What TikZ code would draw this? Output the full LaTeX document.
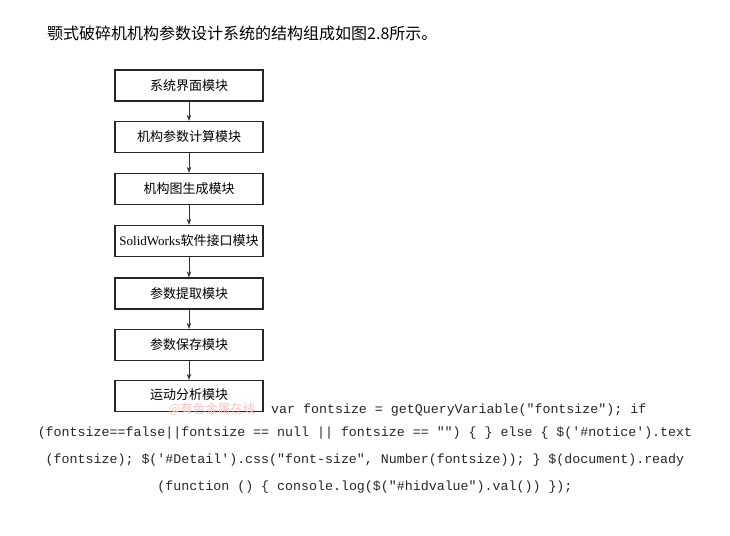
\documentclass[tikz,border=0pt]{standalone}
\usepackage{fontspec}
\setmainfont{Liberation Serif}
\setmonofont{Liberation Mono}
\newfontfamily\cjk{Noto Sans CJK SC}
\usetikzlibrary{arrows.meta}

\begin{document}
\begin{tikzpicture}[x=1pt,y=-1pt,>={Stealth[length=6pt,width=4.5pt]},
                    modbox/.style={draw=black!85,line width=1.3pt,minimum width=148pt,minimum height=31pt,
                                   inner sep=0pt,font=\cjk\fontsize{13}{13}\selectfont},
                    codeline/.style={font=\ttfamily\fontsize{13.3}{14}\selectfont,inner sep=0pt,text=black!85}]
  \useasboundingbox[fill=white] (0,0) rectangle (730,535);
  % heading line
  \node[anchor=west,inner sep=0pt,font=\cjk\fontsize{16}{16}\selectfont] (title) at (47,33)
    {颚式破碎机机构参数设计系统的结构组成如图2.8所示。};
  % the module chain
  \node[modbox] (ui) at (189,85.5) {系统界面模块};
  \node[modbox] (calc) at (189,137) {机构参数计算模块};
  \node[modbox] (graph) at (189,189) {机构图生成模块};
  \node[modbox] (sw) at (189,241) {{\rmfamily SolidWorks}软件接口模块};
  \node[modbox] (extract) at (189,293.5) {参数提取模块};
  \node[modbox] (save) at (189,345) {参数保存模块};
  \node[modbox,text depth=4pt] (motion) at (189,396) {运动分析模块};
  \draw[->,black!80,line width=0.6pt] (ui) -- (calc);
  \draw[->,black!80,line width=0.6pt] (calc) -- (graph);
  \draw[->,black!80,line width=0.6pt] (graph) -- (sw);
  \draw[->,black!80,line width=0.6pt] (sw) -- (extract);
  \draw[->,black!80,line width=0.6pt] (extract) -- (save);
  \draw[->,black!80,line width=0.6pt] (save) -- (motion);
  % watermark over the last box
  \node[inner sep=0pt,text=red!25,font=\cjk\fontsize{12.5}{13}\selectfont] (mark) at (212,409) {@有色金属在线};
  % script text below
  \node[codeline,anchor=west] (code1) at (271,410) {var fontsize = getQueryVariable("fontsize"); if};
  \node[codeline] (code2) at (365,433) {(fontsize==false||fontsize == null || fontsize == "") \{ \} else \{ \$('\#notice').text};
  \node[codeline] (code3) at (365,460) {(fontsize); \$('\#Detail').css("font-size", Number(fontsize)); \} \$(document).ready};
  \node[codeline] (code4) at (365,487) {(function () \{ console.log(\$("\#hidvalue").val()) \});};
\end{tikzpicture}
\end{document}
